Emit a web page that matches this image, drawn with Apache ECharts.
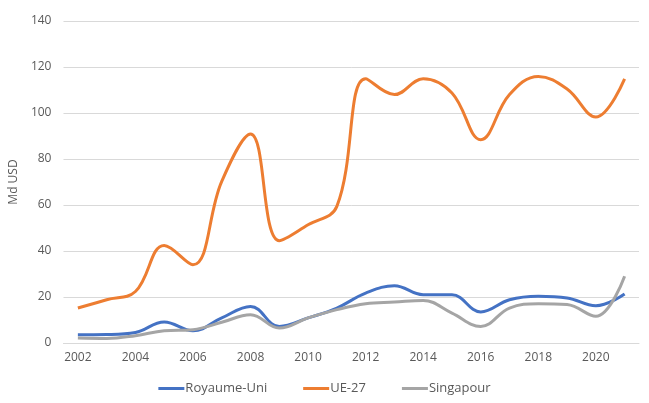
<!DOCTYPE html>
<html><head><meta charset="utf-8">
<script src="https://cdn.jsdelivr.net/npm/echarts@6/dist/echarts.min.js"></script>
<style>html,body{margin:0;padding:0;background:#fff}#c{width:649px;height:403px}</style>
</head><body><div id="c"></div>
<script>
var years = ['2002','2003','2004','2005','2006','2007','2008','2009','2010','2011','2012','2013','2014','2015','2016','2017','2018','2019','2020','2021'];
var royaumeUni = [3.6,3.7,4.6,9.1,5.3,10.9,15.9,7.2,10.9,15.2,21.7,24.9,21,21,13.5,18.8,20.3,19.6,16.2,21.3];
var ue27 = [15.2,18.8,22.4,42.4,34,70.3,90.9,44.5,51.4,59.4,114.9,108,114.9,108.7,88.4,108,115.9,110.4,98.3,114.8];
var singapour = [2.2,2.0,3.2,5.3,5.8,9,12.3,6.5,10.9,14.5,17.1,17.8,18.5,13,7.2,15.2,17.1,16.7,11.6,29];
var yTicks = [0,20,40,60,80,100,120,140];
var font = 'Open Sans';
var chart = echarts.init(document.getElementById('c'));
function line(name, data, color){
  return {name:name,type:'line',data:data,smooth:0.4,symbol:'none',
    lineStyle:{width:3,color:color},itemStyle:{color:color},z:2};
}
chart.setOption({
  animation:false,
  textStyle:{fontFamily:font},
  grid:{left:57,right:10,top:21,bottom:60},
  legend:{bottom:3,left:'center',itemWidth:26,itemHeight:3,itemGap:36,icon:'rect',
    textStyle:{color:'#595959',fontSize:13,fontFamily:font,padding:[0,0,0,-4]},
    data:['Royaume-Uni','UE-27','Singapour']},
  xAxis:{type:'category',data:years,boundaryGap:true,
    axisLine:{lineStyle:{color:'#D9D9D9'}},axisTick:{show:false},
    axisLabel:{color:'#595959',fontSize:12,interval:1,margin:9}},
  yAxis:{type:'value',min:yTicks[0],max:yTicks[yTicks.length-1],interval:20,
    name:'Md USD',nameLocation:'middle',nameGap:34,nameRotate:90,
    nameTextStyle:{color:'#595959',fontSize:12},
    axisLine:{show:false},axisTick:{show:false},
    axisLabel:{color:'#595959',fontSize:12,margin:12},
    splitLine:{lineStyle:{color:'#D9D9D9'}}},
  series:[line('Royaume-Uni',royaumeUni,'#4472C4'),line('UE-27',ue27,'#ED7D31'),line('Singapour',singapour,'#A5A5A5')]
});
</script></body></html>
